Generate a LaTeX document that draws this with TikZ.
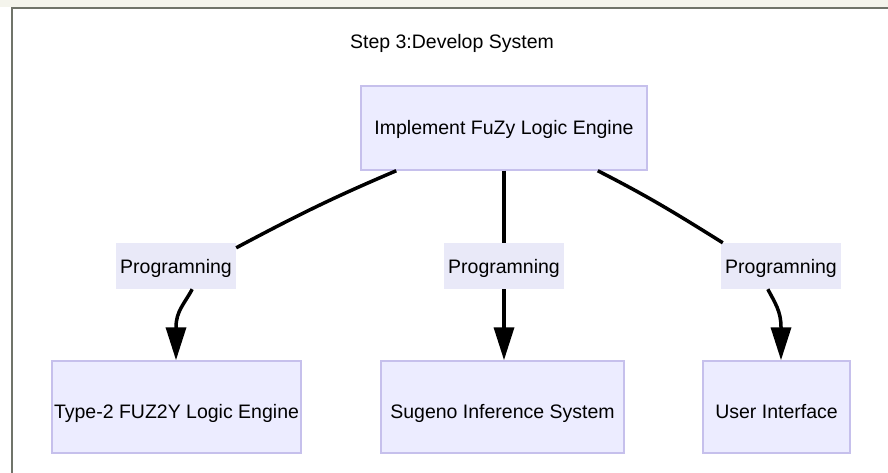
\documentclass[tikz,border=0pt]{standalone}
\usepackage{fontspec}
\setmainfont{Liberation Sans}
\usetikzlibrary{arrows.meta,calc}
\definecolor{nodefill}{HTML}{ECECFF}
\definecolor{nodeline}{HTML}{C6C0EC}
\definecolor{labfill}{HTML}{E9E9F8}
\definecolor{frameline}{HTML}{70746A}
\definecolor{band}{HTML}{F4F4EC}
\begin{document}
\begin{tikzpicture}[x=1pt,y=-1pt,
  txt/.style={font=\fontsize{19.5}{23}\selectfont},
  box/.style={txt,draw=nodeline,line width=1.5pt,fill=nodefill,inner sep=0pt,text height=22pt,text depth=0pt},
  lab/.style={txt,fill=labfill,inner sep=0pt,minimum width=120pt,minimum height=46pt,text height=14.6pt,text depth=0pt},
  conn/.style={line width=3.5pt,black},
  arrowtip/.style={-{Triangle[length=33pt,width=20pt]}}
]
\fill[white] (0,0) rectangle (888,473);
\path[use as bounding box] (0,0) rectangle (888,473);
\fill[band] (0,0) rectangle (888,7);
\draw[frameline,line width=2pt] (12,473) -- (12,8) -- (888,8);

\node[txt,anchor=base] (title) at (452,49) {Step 3:Develop System};

\node[box,minimum width=286pt,minimum height=84pt,text height=14pt] (top) at (504,128) {Implement FuZy Logic Engine};
\node[lab] (lab1) at (176,266) {Programning};
\node[lab] (lab2) at (504,266) {Programning};
\node[lab] (lab3) at (781,266) {Programning};
\node[box,minimum width=249pt,minimum height=92pt] (bot1) at (176.5,407) {Type-2 FUZ2Y Logic Engine};
\node[box,minimum width=243pt,minimum height=92pt] (bot2) at (502.5,407) {Sugeno Inference System};
\node[box,minimum width=147pt,minimum height=92pt] (bot3) at (776.5,407) {User Interface};

\draw[conn] ($(top.south west)+(36,0)$) to[out=-157,in=28] ($(lab1.north east)+(0,5)$);
\draw[conn,arrowtip] ($(lab1.south east)+(-44,0)$) to[out=-118,in=90] ($(lab1.south)+(0,38)$) -- (lab1.south |- bot1.north);
\draw[conn] (top.south) -- (lab2.north);
\draw[conn,arrowtip] (lab2.south) -- (lab2.south |- bot2.north);
\draw[conn] ($(top.south east)+(-50,0)$) to[out=-27,in=148] ($(lab3.north west)+(2,0)$);
\draw[conn,arrowtip] ($(lab3.south west)+(47,0)$) to[out=-62,in=90] ($(lab3.south)+(0,38)$) -- (lab3.south |- bot3.north);
\end{tikzpicture}
\end{document}
